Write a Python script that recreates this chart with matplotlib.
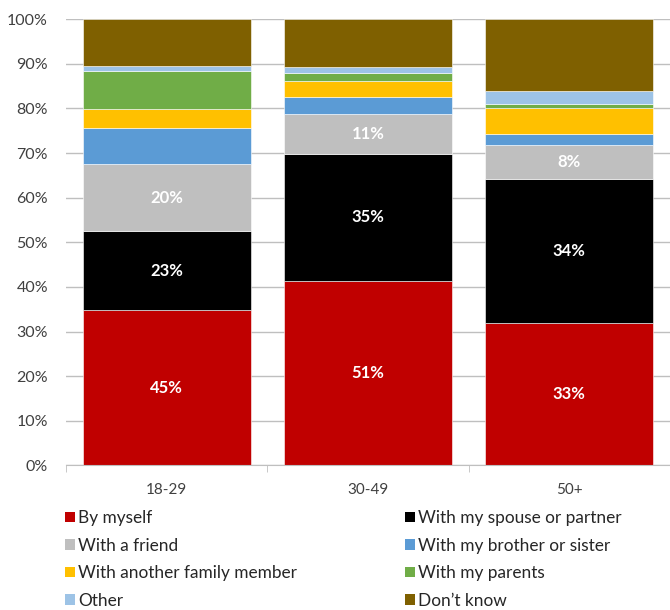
import numpy as np
import matplotlib
matplotlib.use("Agg")
import matplotlib.pyplot as plt
from matplotlib.patches import Patch

# age groups and answers (share of respondents, multiple answers possible)
groups = ["18-29", "30-49", "50+"]
series = ["By myself", "With my spouse or partner", "With a friend",
          "With my brother or sister", "With another family member",
          "With my parents", "Other", "Don\u2019t know"]
by_myself = [45.2, 51.0, 33.3]
spouse = [22.9, 35.0, 33.8]
friend = [19.7, 11.1, 8.0]
sibling = [10.5, 4.5, 2.5]
family = [5.5, 4.5, 6.2]
parents = [11.0, 2.3, 1.0]
other = [1.5, 1.5, 3.0]
dont_know = [13.6, 13.3, 16.8]
colors = ["#C00000", "#000000", "#BFBFBF", "#5B9BD5",
          "#FFC000", "#70AD47", "#9DC3E6", "#7F6000"]
labelled = 3  # only the first three answers carry data labels

plt.rcParams['font.family'] = ['Lato', 'DejaVu Sans']

values = np.array([by_myself, spouse, friend, sibling, family, parents, other, dont_know])
shares = values / values.sum(axis=0) * 100

fig = plt.figure(figsize=(6.7, 6.1), dpi=100)
ax = fig.add_axes([66 / 670, (610 - 465.3) / 610, 604 / 670, 446 / 610])

x = np.arange(len(groups))
bottom = np.zeros(len(groups))
for i, name in enumerate(series):
    ax.bar(x, shares[i], 0.836, bottom=bottom, color=colors[i],
           edgecolor="white", linewidth=0.4, label=name, zorder=2)
    if i < labelled:
        for j in range(len(groups)):
            ax.text(x[j], bottom[j] + shares[i][j] / 2, f"{values[i][j]:.0f}%",
                    ha="center", va="center", color="white",
                    fontsize=12, fontweight="bold")
    bottom += shares[i]

ax.set_xlim(-0.5, -0.5 + 604 / 204.5)
ax.set_ylim(0, 100)
ax.set_yticks(np.arange(0, 101, 10))
ax.set_yticklabels([f"{v}%" for v in range(0, 101, 10)])
ax.set_xticks(x)
ax.set_xticklabels(groups)
ax.set_xticks([-0.5, 0.5, 1.5, 2.5], minor=True)
ax.tick_params(axis="y", length=0, pad=13, labelsize=11.5, colors="#404040")
ax.tick_params(axis="x", which="major", length=0, pad=13, labelsize=11, colors="#404040")
ax.tick_params(axis="x", which="minor", length=5, color="#BFBFBF")
ax.yaxis.grid(True, color="#BFBFBF", linewidth=1)
ax.set_axisbelow(True)
for s in ["left", "right", "top"]:
    ax.spines[s].set_visible(False)
ax.spines["bottom"].set_color("#BFBFBF")

handles = [Patch(facecolor=c, edgecolor="none") for c in colors]
leg_kw = dict(frameon=False, fontsize=12.4, handlelength=0.58, handleheight=0.58,
              handletextpad=0.2, labelspacing=0.67, borderpad=0, borderaxespad=0,
              labelcolor="#262626")
fig.legend([handles[k] for k in (0, 2, 4, 6)], [series[k] for k in (0, 2, 4, 6)],
           loc="upper left", bbox_to_anchor=(65 / 670, 1 - 510 / 610), **leg_kw)
fig.legend([handles[k] for k in (1, 3, 5, 7)], [series[k] for k in (1, 3, 5, 7)],
           loc="upper left", bbox_to_anchor=(405 / 670, 1 - 510 / 610), **leg_kw)

fig.savefig("out.png", dpi=100)
